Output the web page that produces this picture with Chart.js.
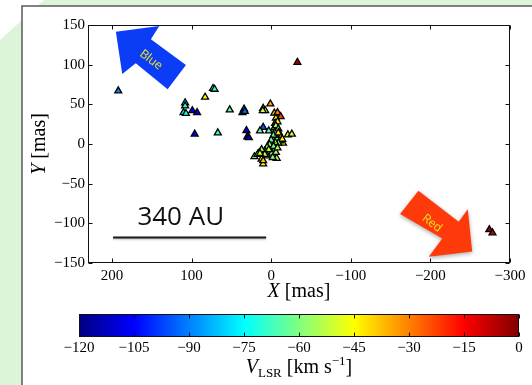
<!DOCTYPE html>
<html>
<head>
<meta charset="utf-8">
<script src="https://cdn.jsdelivr.net/npm/chart.js@4"></script>
<style>
  body { margin: 0; background: #fff; }
  #wrap { position: relative; width: 532px; height: 385px; }
  #wrap canvas { position: absolute; left: 0; top: 0; }
</style>
</head>
<body>
<div id="wrap">
  <canvas id="maserChart" width="532" height="385"></canvas>
  <canvas id="cbarChart" width="532" height="385"></canvas>
</div>
<script>
// axis ticks
const xTicks = [200, 100, 0, -100, -200, -300];
const yTicks = [150, 100, 50, 0, -50, -100, -150];
const vTicks = [-120, -105, -90, -75, -60, -45, -30, -15, 0];
const V_MIN = -120, V_MAX = 0;

// maser spots: X [mas], Y [mas], V_LSR [km/s]
const spotX = [192, -33, -274, -278, 73, 71, 83, 108, 108, 110, 107, 99, 93, 96, 67, 52, 34, 36, 33, 31, 30, 28,
  10, 7.5, 10.5, 1, -4, -8, -12, -6, -5, -4, -5, 10, 14, 3, -21, -26, -15, 21, 12, 10, -7, -1, -6,
  -8, -6, -9, -10, -12, -7, -3, -11, -14, -9, -5, 0, 2, -3, 5, 8, 3, -8, 12, 15, 17, 5, 10, 8, -2, -9, 14];
const spotY = [67, 103, -108, -112, 70, 69, 59, 52, 48, 39.5, 38.5, 42, 39.5, 12.5, 14, 43, 44, 39.5, 41, 17, 9, 8,
  45, 42, 42, 50.5, 39, 39.5, 34.5, 32.5, 26, 20.5, 15.5, 21, 16.5, 16.5, 11.5, 12.5, 1, -16, -19, -25, -18, -11.5, -10.5,
  28, 23, 19, 14, 9, 7, 11, 4, 6, 1, 2, 5, -1, -3, -4, -9, -7, -5, -7, -11, -13, -15, -21, -13, -17, 14, -12];
const spotV = [-90, -4, -3, -7, -72, -70, -45, -75, -70, -76, -73, -108, -110, -106, -70, -63, -88, -96, -92, -110, -112, -114,
  -50, -47, -52, -33, -40, -30, -22, -45, -47, -43, -50, -95, -62, -65, -50, -48, -47, -62, -44, -46, -53, -60, -57,
  -46, -55, -58, -52, -48, -62, -64, -56, -45, -60, -54, -63, -57, -62, -59, -65, -50, -52, -58, -61, -54, -62, -38, -50, -58, -42, -48];

// annotations in data coordinates
const blueArrowX = [195, 140.5, 151, 107, 130, 170, 187];
const blueArrowY = [141.5, 148.8, 132, 99.6, 69, 101.7, 88.3];
const redArrowX = [-185, -235.6, -247, -252.5, -198, -215, -162];
const redArrowY = [-59, -98, -82.3, -135.6, -142, -119, -88.3];
const scaleBarX = [198.5, 6.3];
const scaleBarY = -117.7;

const SERIF = '"Liberation Serif", "DejaVu Serif", serif';
const fmt = v => String(v).replace('-', '\u2212');

function jet(v) {
  const t = (v - V_MIN) / (V_MAX - V_MIN);
  const c = k => Math.round(255 * Math.min(1, Math.max(0, 1.5 - Math.abs(4 * t - k))));
  return 'rgb(' + c(3) + ',' + c(2) + ',' + c(1) + ')';
}

// draw a row of text pieces with different fonts, centred on cx
function drawRuns(c, runs, cx, baseY) {
  let total = 0;
  runs.forEach(r => { c.font = r.font; r.w = c.measureText(r.text).width; total += r.w; });
  let x = cx - total / 2;
  c.textBaseline = 'alphabetic';
  c.textAlign = 'left';
  runs.forEach(r => { c.font = r.font; c.fillText(r.text, x, baseY + (r.dy || 0)); x += r.w; });
}

function frameWithTicks(c, area, xScale, xs, yScale, ys, len) {
  c.save();
  c.strokeStyle = '#111';
  c.lineWidth = 1;
  const l = Math.round(area.left) + 0.5, r = Math.round(area.right) - 0.5;
  const t = Math.round(area.top) + 0.5, b = Math.round(area.bottom) - 0.5;
  c.strokeRect(l, t, r - l, b - t);
  c.beginPath();
  xs.forEach(v => {
    const px = Math.round(xScale.getPixelForValue(v)) + 0.5;
    c.moveTo(px, b); c.lineTo(px, b - len);
    c.moveTo(px, t); c.lineTo(px, t + len);
  });
  if (yScale) {
    ys.forEach(v => {
      const py = Math.round(yScale.getPixelForValue(v)) + 0.5;
      c.moveTo(l, py); c.lineTo(l + len, py);
      c.moveTo(r, py); c.lineTo(r - len, py);
    });
  }
  c.stroke();
  c.restore();
}

const slideBackground = {
  id: 'slideBackground',
  beforeDraw(chart) {
    const c = chart.ctx;
    c.save();
    c.fillStyle = '#dcf4d8';
    c.fillRect(0, 0, chart.width, chart.height);
    c.fillStyle = '#fff';
    c.beginPath(); c.moveTo(0, 0); c.lineTo(44, 0); c.lineTo(0, 40); c.closePath(); c.fill();
    c.fillRect(22, 6, chart.width - 22, chart.height - 6);
    c.strokeStyle = '#5a5a5a';
    c.lineWidth = 1.5;
    c.beginPath(); c.moveTo(22, chart.height); c.lineTo(22, 6); c.lineTo(chart.width, 6); c.stroke();
    c.restore();
  }
};

const plotFrame = {
  id: 'plotFrame',
  beforeDatasetsDraw(chart) {
    frameWithTicks(chart.ctx, chart.chartArea, chart.scales.x, xTicks, chart.scales.y, yTicks, 4);
  },
  afterDraw(chart) {
    const c = chart.ctx, a = chart.chartArea;
    c.save();
    c.fillStyle = '#000';
    const big = '20px ' + SERIF, it = 'italic 20px ' + SERIF;
    drawRuns(c, [{ text: 'X', font: it }, { text: ' [mas]', font: big }], (a.left + a.right) / 2, 297);
    c.translate(45, (a.top + a.bottom) / 2);
    c.rotate(-Math.PI / 2);
    drawRuns(c, [{ text: 'Y', font: it }, { text: ' [mas]', font: big }], 0, 0);
    c.restore();
  }
};

const annotations = {
  id: 'annotations',
  afterDatasetsDraw(chart) {
    const c = chart.ctx, xs = chart.scales.x, ys = chart.scales.y;
    const px = v => xs.getPixelForValue(v), py = v => ys.getPixelForValue(v);
    const arrow = (ax, ay, fill, shadow) => {
      c.save();
      if (shadow) { c.shadowColor = 'rgba(0,0,0,0.35)'; c.shadowBlur = 4; c.shadowOffsetY = 1.5; }
      c.fillStyle = fill;
      c.beginPath();
      ax.forEach((v, i) => i ? c.lineTo(px(v), py(ay[i])) : c.moveTo(px(v), py(ay[i])));
      c.closePath();
      c.fill();
      c.restore();
    };
    const label = (text, vx, vy, ang) => {
      c.save();
      c.translate(px(vx), py(vy));
      c.rotate(ang * Math.PI / 180);
      c.fillStyle = '#f2e51e';
      c.font = '12px "Open Sans", "Liberation Sans", sans-serif';
      c.textAlign = 'center';
      c.textBaseline = 'middle';
      c.fillText(text, 0, 0);
      c.restore();
    };
    arrow(blueArrowX, blueArrowY, '#0b3cf6', false);
    label('Blue', 151, 106, 37);
    arrow(redArrowX, redArrowY, '#ff3a0a', true);
    label('Red', -202, -100, 38);

    // scale bar
    c.save();
    c.shadowColor = 'rgba(0,0,0,0.3)';
    c.shadowBlur = 2;
    c.shadowOffsetY = 1;
    c.strokeStyle = '#1a1a1a';
    c.lineWidth = 2;
    c.beginPath();
    c.moveTo(px(scaleBarX[0]), py(scaleBarY));
    c.lineTo(px(scaleBarX[1]), py(scaleBarY));
    c.stroke();
    c.restore();
    c.save();
    c.fillStyle = '#111';
    c.font = '26px "Open Sans", "Liberation Sans", sans-serif';
    c.textAlign = 'center';
    c.textBaseline = 'alphabetic';
    c.fillText('340 AU', px(113.5), py(-102));
    c.restore();
  }
};

new Chart(document.getElementById('maserChart'), {
  type: 'scatter',
  data: {
    datasets: [{
      data: spotX.map((x, i) => ({ x: x, y: spotY[i] })),
      pointStyle: 'triangle',
      pointRadius: 4,
      pointBorderWidth: 1.3,
      pointBorderColor: '#000',
      pointBackgroundColor: spotV.map(jet)
    }]
  },
  options: {
    responsive: false,
    animation: false,
    events: [],
    layout: { padding: { left: 28, right: 22, top: 25, bottom: 82 } },
    plugins: { legend: { display: false }, tooltip: { enabled: false } },
    scales: {
      x: {
        type: 'linear', reverse: true, min: -300, max: 230,
        afterBuildTicks: s => { s.ticks = xTicks.map(v => ({ value: v })); },
        afterFit: s => { s.height = 40; },
        grid: { display: false, drawTicks: false }, border: { display: false },
        ticks: { callback: fmt, color: '#000', padding: 4, maxRotation: 0, font: { family: SERIF, size: 15 } }
      },
      y: {
        type: 'linear', min: -150, max: 150,
        afterBuildTicks: s => { s.ticks = yTicks.map(v => ({ value: v })); },
        afterFit: s => { s.width = 60; },
        grid: { display: false, drawTicks: false }, border: { display: false },
        ticks: { callback: fmt, color: '#000', padding: 3, font: { family: SERIF, size: 15 } }
      }
    }
  },
  plugins: [slideBackground, plotFrame, annotations]
});

// colour bar
const colourBar = {
  id: 'colourBar',
  beforeDatasetsDraw(chart) {
    const c = chart.ctx, a = chart.chartArea;
    const g = c.createLinearGradient(a.left, 0, a.right, 0);
    for (let i = 0; i <= 32; i++) g.addColorStop(i / 32, jet(V_MIN + (V_MAX - V_MIN) * i / 32));
    c.save();
    c.fillStyle = g;
    c.fillRect(a.left, a.top, a.right - a.left, a.bottom - a.top);
    c.restore();
    frameWithTicks(c, a, chart.scales.x, vTicks, null, [], 4);
  },
  afterDraw(chart) {
    const c = chart.ctx;
    c.save();
    c.fillStyle = '#000';
    drawRuns(c, [
      { text: 'V', font: 'italic 20px ' + SERIF },
      { text: 'LSR', font: '13px ' + SERIF, dy: 4 },
      { text: ' [km s', font: '20px ' + SERIF },
      { text: '\u22121', font: '13px ' + SERIF, dy: -8 },
      { text: ']', font: '20px ' + SERIF }
    ], 299, 373);
    c.restore();
  }
};

new Chart(document.getElementById('cbarChart'), {
  type: 'scatter',
  data: { datasets: [{ data: [] }] },
  options: {
    responsive: false,
    animation: false,
    events: [],
    layout: { padding: { left: 79, right: 13, top: 314, bottom: 8 } },
    plugins: { legend: { display: false }, tooltip: { enabled: false } },
    scales: {
      x: {
        type: 'linear', min: V_MIN, max: V_MAX,
        afterBuildTicks: s => { s.ticks = vTicks.map(v => ({ value: v })); },
        afterFit: s => { s.height = 40; },
        grid: { display: false, drawTicks: false }, border: { display: false },
        ticks: { callback: fmt, color: '#000', padding: 2, maxRotation: 0, font: { family: SERIF, size: 15 } }
      },
      y: { display: false, min: 0, max: 1 }
    }
  },
  plugins: [colourBar]
});
</script>
</body>
</html>
